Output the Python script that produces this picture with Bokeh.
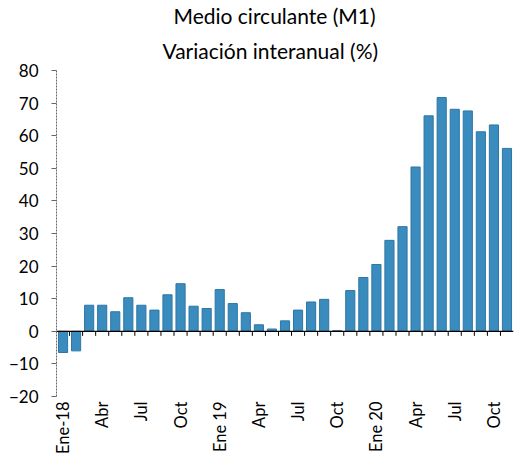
import math
from bokeh.plotting import figure
from bokeh.models import Range1d, FixedTicker, Span, Title, ColumnDataSource
from bokeh.embed import file_html
from bokeh.resources import INLINE

months = ["Ene-18", "Feb-18", "Mar-18", "Abr-18", "May-18", "Jun-18", "Jul-18", "Ago-18", "Sep-18",
          "Oct-18", "Nov-18", "Dic-18", "Ene-19", "Feb-19", "Mar-19", "Abr-19", "May-19", "Jun-19",
          "Jul-19", "Ago-19", "Sep-19", "Oct-19", "Nov-19", "Dic-19", "Ene-20", "Feb-20", "Mar-20",
          "Abr-20", "May-20", "Jun-20", "Jul-20", "Ago-20", "Sep-20", "Oct-20", "Nov-20"]
values = [-6.5, -6.0, 8.0, 8.0, 6.0, 10.3, 8.0, 6.5, 11.2, 14.6, 7.7, 7.0,
          12.8, 8.5, 5.7, 2.0, 0.7, 3.2, 6.5, 9.0, 9.8, 0.2, 12.5, 16.5,
          20.5, 27.9, 32.1, 50.4, 66.1, 71.7, 68.1, 67.6, 61.2, 63.3, 56.1]
tick_labels = ["Ene-18", "Abr", "Jul", "Oct", "Ene 19", "Apr", "Jul", "Oct",
               "Ene 20", "Apr", "Jul", "Oct"]
y_ticks = [-20, -10, 0, 10, 20, 30, 40, 50, 60, 70, 80]
title_line1 = "Medio circulante (M1)"
title_line2 = "Variación interanual (%)"

FONT = "Lato"
x = list(range(len(values)))
src = ColumnDataSource(dict(x=x, top=values))

p = figure(width=517, height=456, output_backend="svg", toolbar_location=None,
           x_range=Range1d(-0.5, len(values) - 0.5), y_range=Range1d(-20, 80),
           min_border_left=56, min_border_right=4, min_border_bottom=2, min_border_top=2)
p.outline_line_color = None
p.grid.visible = False
p.background_fill_color = "white"

p.vbar(x="x", top="top", bottom=0, width=0.7, source=src,
       fill_color="#3a8cbf", line_color="#2d76a3", line_width=1)

p.add_layout(Span(location=0, dimension="width", line_color="black", line_width=1.2))
bounds = [i - 0.5 for i in range(1, len(values))]
p.segment(x0=bounds, x1=bounds, y0=[0] * len(bounds), y1=[-1.4] * len(bounds),
          line_color="black", line_width=1)

# y axis
ya = p.yaxis[0]
ya.ticker = FixedTicker(ticks=y_ticks)
ya.axis_line_color = "#666666"
ya.axis_line_dash = "2 1"
ya.major_tick_line_color = "#666666"
ya.major_tick_out = 5
ya.major_tick_in = 0
ya.minor_tick_line_color = None
ya.major_label_standoff = 13
ya.major_label_text_font = FONT
ya.major_label_text_font_size = "17px"
ya.major_label_text_color = "black"

# x axis
xa = p.xaxis[0]
label_pos = list(range(0, len(values), 3))
xa.ticker = FixedTicker(ticks=label_pos)
xa.major_label_overrides = {pos: lab for pos, lab in zip(label_pos, tick_labels)}
xa.major_label_orientation = math.pi / 2
xa.axis_line_color = None
xa.major_tick_line_color = None
xa.major_tick_out = 0
xa.major_tick_in = 0
xa.minor_tick_out = 0
xa.minor_tick_line_color = None
xa.major_label_standoff = 5
xa.major_label_text_font = FONT
xa.major_label_text_font_size = "16.5px"
xa.major_label_text_color = "black"

p.add_layout(Title(text=title_line2, align="left", text_font=FONT,
                   text_font_size="21px", text_font_style="normal", text_color="black",
                   standoff=16, offset=106), "above")
p.add_layout(Title(text=title_line1, align="left", text_font=FONT,
                   text_font_size="21px", text_font_style="normal", text_color="black",
                   standoff=0, offset=117), "above")

open("out.html", "w").write(file_html(p, INLINE))
